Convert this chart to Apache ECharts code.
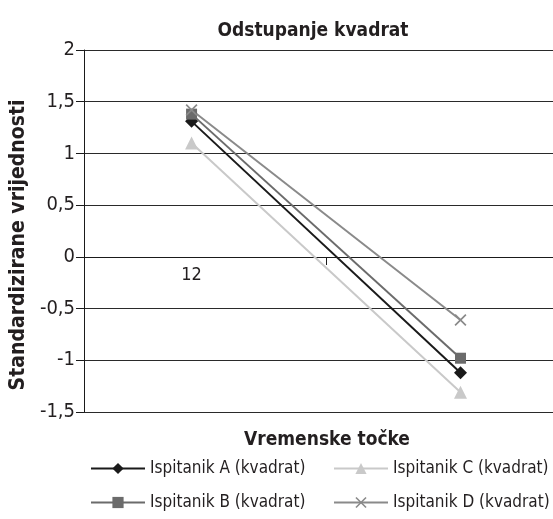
<!DOCTYPE html>
<html>
<head>
<meta charset="utf-8">
<script src="https://cdn.jsdelivr.net/npm/echarts@6/dist/echarts.min.js"></script>
<style>
  html, body { margin: 0; padding: 0; background: #fff; }
  #chart { width: 553px; height: 519px; }
</style>
</head>
<body>
<div id="chart"></div>
<script>
// time points and their labels (only the first label is printed in the source)
const xPositions = [1, 2];
const xLabels = ['12', ''];
const xTickMarks = [1.5];

const seriesNames = [
  'Ispitanik A (kvadrat)',
  'Ispitanik B (kvadrat)',
  'Ispitanik C (kvadrat)',
  'Ispitanik D (kvadrat)',
];
const valuesA = [1.31, -1.12];
const valuesB = [1.38, -0.98];
const valuesC = [1.1, -1.31];
const valuesD = [1.42, -0.61];

const yTicks = [-1.5, -1, -0.5, 0, 0.5, 1, 1.5, 2];

const FONT = "'Liberation Sans Narrow', 'DejaVu Sans Condensed', sans-serif";
const TEXT = '#231f20';
const crossPath = 'path://M0,1 L1,0 L10,9 L9,10 Z M9,0 L10,1 L1,10 L0,9 Z';

const toPoints = (vals) => vals.map((v, i) => [xPositions[i], v]);

const makeSeries = (name, vals, color, symbol, size) => ({
  name,
  type: 'line',
  data: toPoints(vals),
  symbol,
  symbolSize: size,
  lineStyle: { color, width: 2 },
  itemStyle: { color },
  emphasis: { disabled: true },
  animation: false,
});

const legendAt = (name, left, top) => ({
  data: [name],
  left,
  top,
  itemWidth: 54,
  itemHeight: 14,
  itemGap: 0,
  textStyle: { fontFamily: FONT, fontSize: 17, color: TEXT },
  selectedMode: false,
});

const chart = echarts.init(document.getElementById('chart'));

// grid: top 50, bottom edge at 412 -> zero line sits 155px above the bottom
chart.setOption({
  animation: false,
  title: [
    {
      text: 'Odstupanje kvadrat',
      left: 308,
      top: 17,
      textAlign: 'center',
      textStyle: { fontFamily: FONT, fontSize: 19, fontWeight: 'bold', color: TEXT },
    },
    {
      text: 'Vremenske točke',
      left: 322,
      top: 426,
      textAlign: 'center',
      textStyle: { fontFamily: FONT, fontSize: 19, fontWeight: 'bold', color: TEXT },
    },
  ],
  legend: [
    legendAt(seriesNames[0], 85, 455),
    legendAt(seriesNames[2], 328, 455),
    legendAt(seriesNames[1], 85, 489),
    legendAt(seriesNames[3], 328, 489),
  ],
  grid: {
    left: 81,
    right: 0,
    top: 50,
    bottom: 107,
    containLabel: false,
  },
  xAxis: {
    type: 'value',
    min: 0.6,
    max: 2.344,
    offset: -155,
    splitLine: { show: false },
    axisLine: { onZero: false, lineStyle: { color: '#1a1a1a', width: 1 } },
    axisTick: {
      show: true,
      customValues: xTickMarks,
      length: 8,
      lineStyle: { color: '#1a1a1a' },
    },
    axisLabel: {
      customValues: xPositions,
      formatter: (v) => xLabels[xPositions.indexOf(v)] || '',
      fontFamily: FONT,
      fontSize: 18,
      color: TEXT,
      margin: 9,
    },
  },
  yAxis: {
    type: 'value',
    min: yTicks[0],
    max: yTicks[yTicks.length - 1],
    interval: 0.5,
    name: 'Standardizirane vrijednosti',
    nameLocation: 'middle',
    nameGap: 50,
    nameTextStyle: {
      fontFamily: FONT,
      fontSize: 21,
      fontWeight: 'bold',
      color: TEXT,
      padding: [0, 28, 0, 0],
    },
    axisLine: { show: true, lineStyle: { color: '#1a1a1a', width: 1 } },
    axisTick: { show: true, length: 8, lineStyle: { color: '#1a1a1a' } },
    axisLabel: {
      formatter: (v) => String(v).replace('.', ','),
      fontFamily: FONT,
      fontSize: 20,
      color: TEXT,
      margin: 9,
    },
    splitLine: { show: true, lineStyle: { color: '#2a2a2a', width: 1 } },
  },
  series: [
    makeSeries(seriesNames[0], valuesA, '#1a1a1a', 'diamond', 13),
    makeSeries(seriesNames[1], valuesB, '#6b6b6b', 'rect', 11),
    makeSeries(seriesNames[2], valuesC, '#c9c9c9', 'triangle', 13),
    makeSeries(seriesNames[3], valuesD, '#8a8a8a', crossPath, 12),
  ],
});
</script>
</body>
</html>
